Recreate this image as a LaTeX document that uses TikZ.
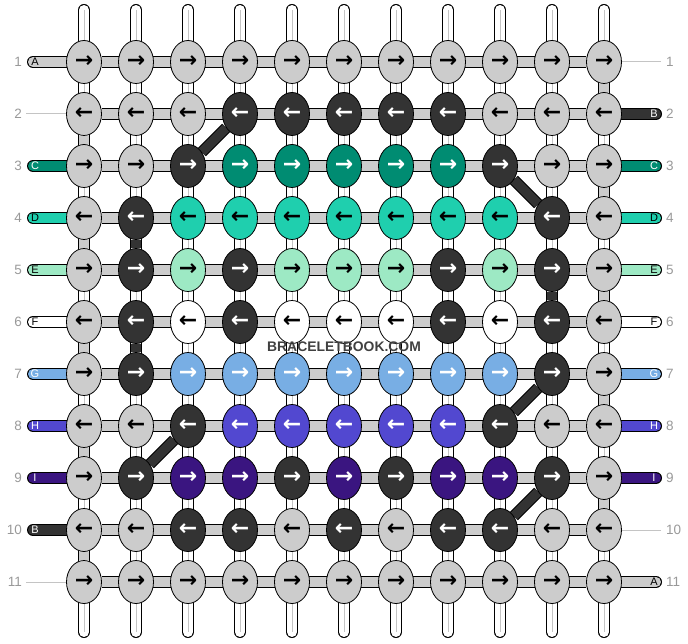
\documentclass[tikz,border=0pt]{standalone}
\usepackage{fontspec}
\setmainfont{Liberation Sans}
\newfontfamily\arrowfont{DejaVu Sans}
\usetikzlibrary{shapes.geometric}
\pgfdeclarelayer{bg}
\pgfsetlayers{bg,main}
\definecolor{ccA}{HTML}{CCCCCC}
\definecolor{ccB}{HTML}{333333}
\definecolor{ccC}{HTML}{008C72}
\definecolor{ccD}{HTML}{1FCFAE}
\definecolor{ccE}{HTML}{9DE9C4}
\definecolor{ccF}{HTML}{FFFFFF}
\definecolor{ccG}{HTML}{78AEE4}
\definecolor{ccH}{HTML}{5248D0}
\definecolor{ccI}{HTML}{3A1580}
\colorlet{tcA}{black}
\colorlet{tcB}{white}
\colorlet{tcC}{white}
\colorlet{tcD}{black}
\colorlet{tcE}{black}
\colorlet{tcF}{black}
\colorlet{tcG}{white}
\colorlet{tcH}{white}
\colorlet{tcI}{white}
\definecolor{numgrey}{HTML}{999999}
\definecolor{lightline}{HTML}{C4C4C4}
\tikzset{
  knot/.style={ellipse, draw=black, line width=0.8pt, minimum width=35pt, minimum height=43pt, inner sep=0pt,
    font=\arrowfont\bfseries\fontsize{22}{22}\selectfont},
  twoline/.style={line width=10pt, preaction={draw=black, line width=12pt}},
  stubline/.style={line width=10pt, line cap=round, preaction={draw=black, line width=12pt, line cap=round}},
  diagline/.style={line width=9.5pt, preaction={draw=black, line width=11.5pt}},
  num/.style={text=numgrey, font=\fontsize{13.5}{14}\selectfont, inner sep=0pt},
  stubletter/.style={font=\fontsize{11}{11}\selectfont, inner sep=0pt},
}
\begin{document}
\begin{tikzpicture}[x=1pt,y=-1pt]
\useasboundingbox (0,0) rectangle (688,644);
% knots
\foreach \r/\cols in {
  1/{A,A,A,A,A,A,A,A,A,A,A},
  2/{A,A,A,B,B,B,B,B,A,A,A},
  3/{A,A,B,C,C,C,C,C,B,A,A},
  4/{A,B,D,D,D,D,D,D,D,B,A},
  5/{A,B,E,B,E,E,E,B,E,B,A},
  6/{A,B,F,B,F,F,F,B,F,B,A},
  7/{A,B,G,G,G,G,G,G,G,B,A},
  8/{A,A,B,H,H,H,H,H,B,A,A},
  9/{A,B,I,I,B,I,B,I,I,B,A},
  10/{A,A,B,B,A,B,A,B,B,A,A},
  11/{A,A,A,A,A,A,A,A,A,A,A}}{
  \foreach \k [count=\c] in \cols {
    \node[knot, fill=cc\k, text=tc\k] (k-\r-\c) at ({84+52*(\c-1)},{62+52*(\r-1)}) {\ifodd\r →\else ←\fi};
  }
}
\begin{pgfonlayer}{bg}
% vertical thread pairs
\foreach \c in {1,...,11}{
  \coordinate (t-\c) at ({84+52*(\c-1)},10);
  \coordinate (b-\c) at ({84+52*(\c-1)},632);
  \draw[stubline, white] (t-\c) -- (b-\c);
  \draw[lightline, line width=0.8pt] (t-\c) -- (b-\c);
}
% coloured vertical passages
\foreach \r/\c/\col in {1/11/ccA, 2/1/ccA, 3/11/ccA, 4/1/ccA, 5/11/ccA, 6/1/ccA, 7/11/ccA, 8/1/ccA, 9/11/ccA, 10/1/ccA, 4/2/ccB, 6/2/ccB, 5/10/ccB}{
  \pgfmathtruncatemacro\rn{\r+1}
  \draw[twoline, \col] (k-\r-\c) -- (k-\rn-\c);
}
% horizontal rows
\foreach \r in {1,...,11}{
  \draw[twoline, ccA] (k-\r-1) -- (k-\r-11);
}
% left stubs
\foreach \r/\k in {1/A,3/C,4/D,5/E,6/F,7/G,8/H,9/I,10/B}{
  \coordinate (sl-\r) at (33,{62+52*(\r-1)});
  \draw[stubline, cc\k] (sl-\r) -- (k-\r-1);
}
% right stubs
\foreach \r/\k in {2/B,3/C,4/D,5/E,6/F,7/G,8/H,9/I,11/A}{
  \coordinate (sr-\r) at (656,{62+52*(\r-1)});
  \draw[stubline, cc\k] (sr-\r) -- (k-\r-11);
}
% empty ends
\foreach \r in {2,11}{
  \coordinate (el-\r) at (26,{62+52*(\r-1)});
  \draw[lightline, line width=1pt] (el-\r) -- (k-\r-1);
}
\foreach \r in {1,10}{
  \coordinate (er-\r) at (661,{62+52*(\r-1)});
  \draw[lightline, line width=1pt] (er-\r) -- (k-\r-11);
}
% diagonal passages
\foreach \a/\b in {2-4/3-3, 3-9/4-10, 7-10/8-9, 8-3/9-2, 9-10/10-9}{
  \draw[diagline, ccB] (k-\a) -- (k-\b);
}
\end{pgfonlayer}
% stub letters
\foreach \r/\k in {1/A,3/C,4/D,5/E,6/F,7/G,8/H,9/I,10/B}{
  \node[stubletter, text=tc\k] (ll-\r) at (35,{62+52*(\r-1)}) {\k};
}
\foreach \r/\k in {2/B,3/C,4/D,5/E,6/F,7/G,8/H,9/I,11/A}{
  \node[stubletter, text=tc\k] (lr-\r) at (654,{62+52*(\r-1)}) {\k};
}
% row numbers
\foreach \r in {1,...,11}{
  \node[num, anchor=east] (nl-\r) at (22,{62+52*(\r-1)}) {\r};
  \node[num, anchor=west] (nr-\r) at (666,{62+52*(\r-1)}) {\r};
}
\node[font=\bfseries\fontsize{13.9}{14}\selectfont, text=black!75, inner sep=0pt] (wm) at (344,347) {BRACELETBOOK.COM};
\end{tikzpicture}
\end{document}
